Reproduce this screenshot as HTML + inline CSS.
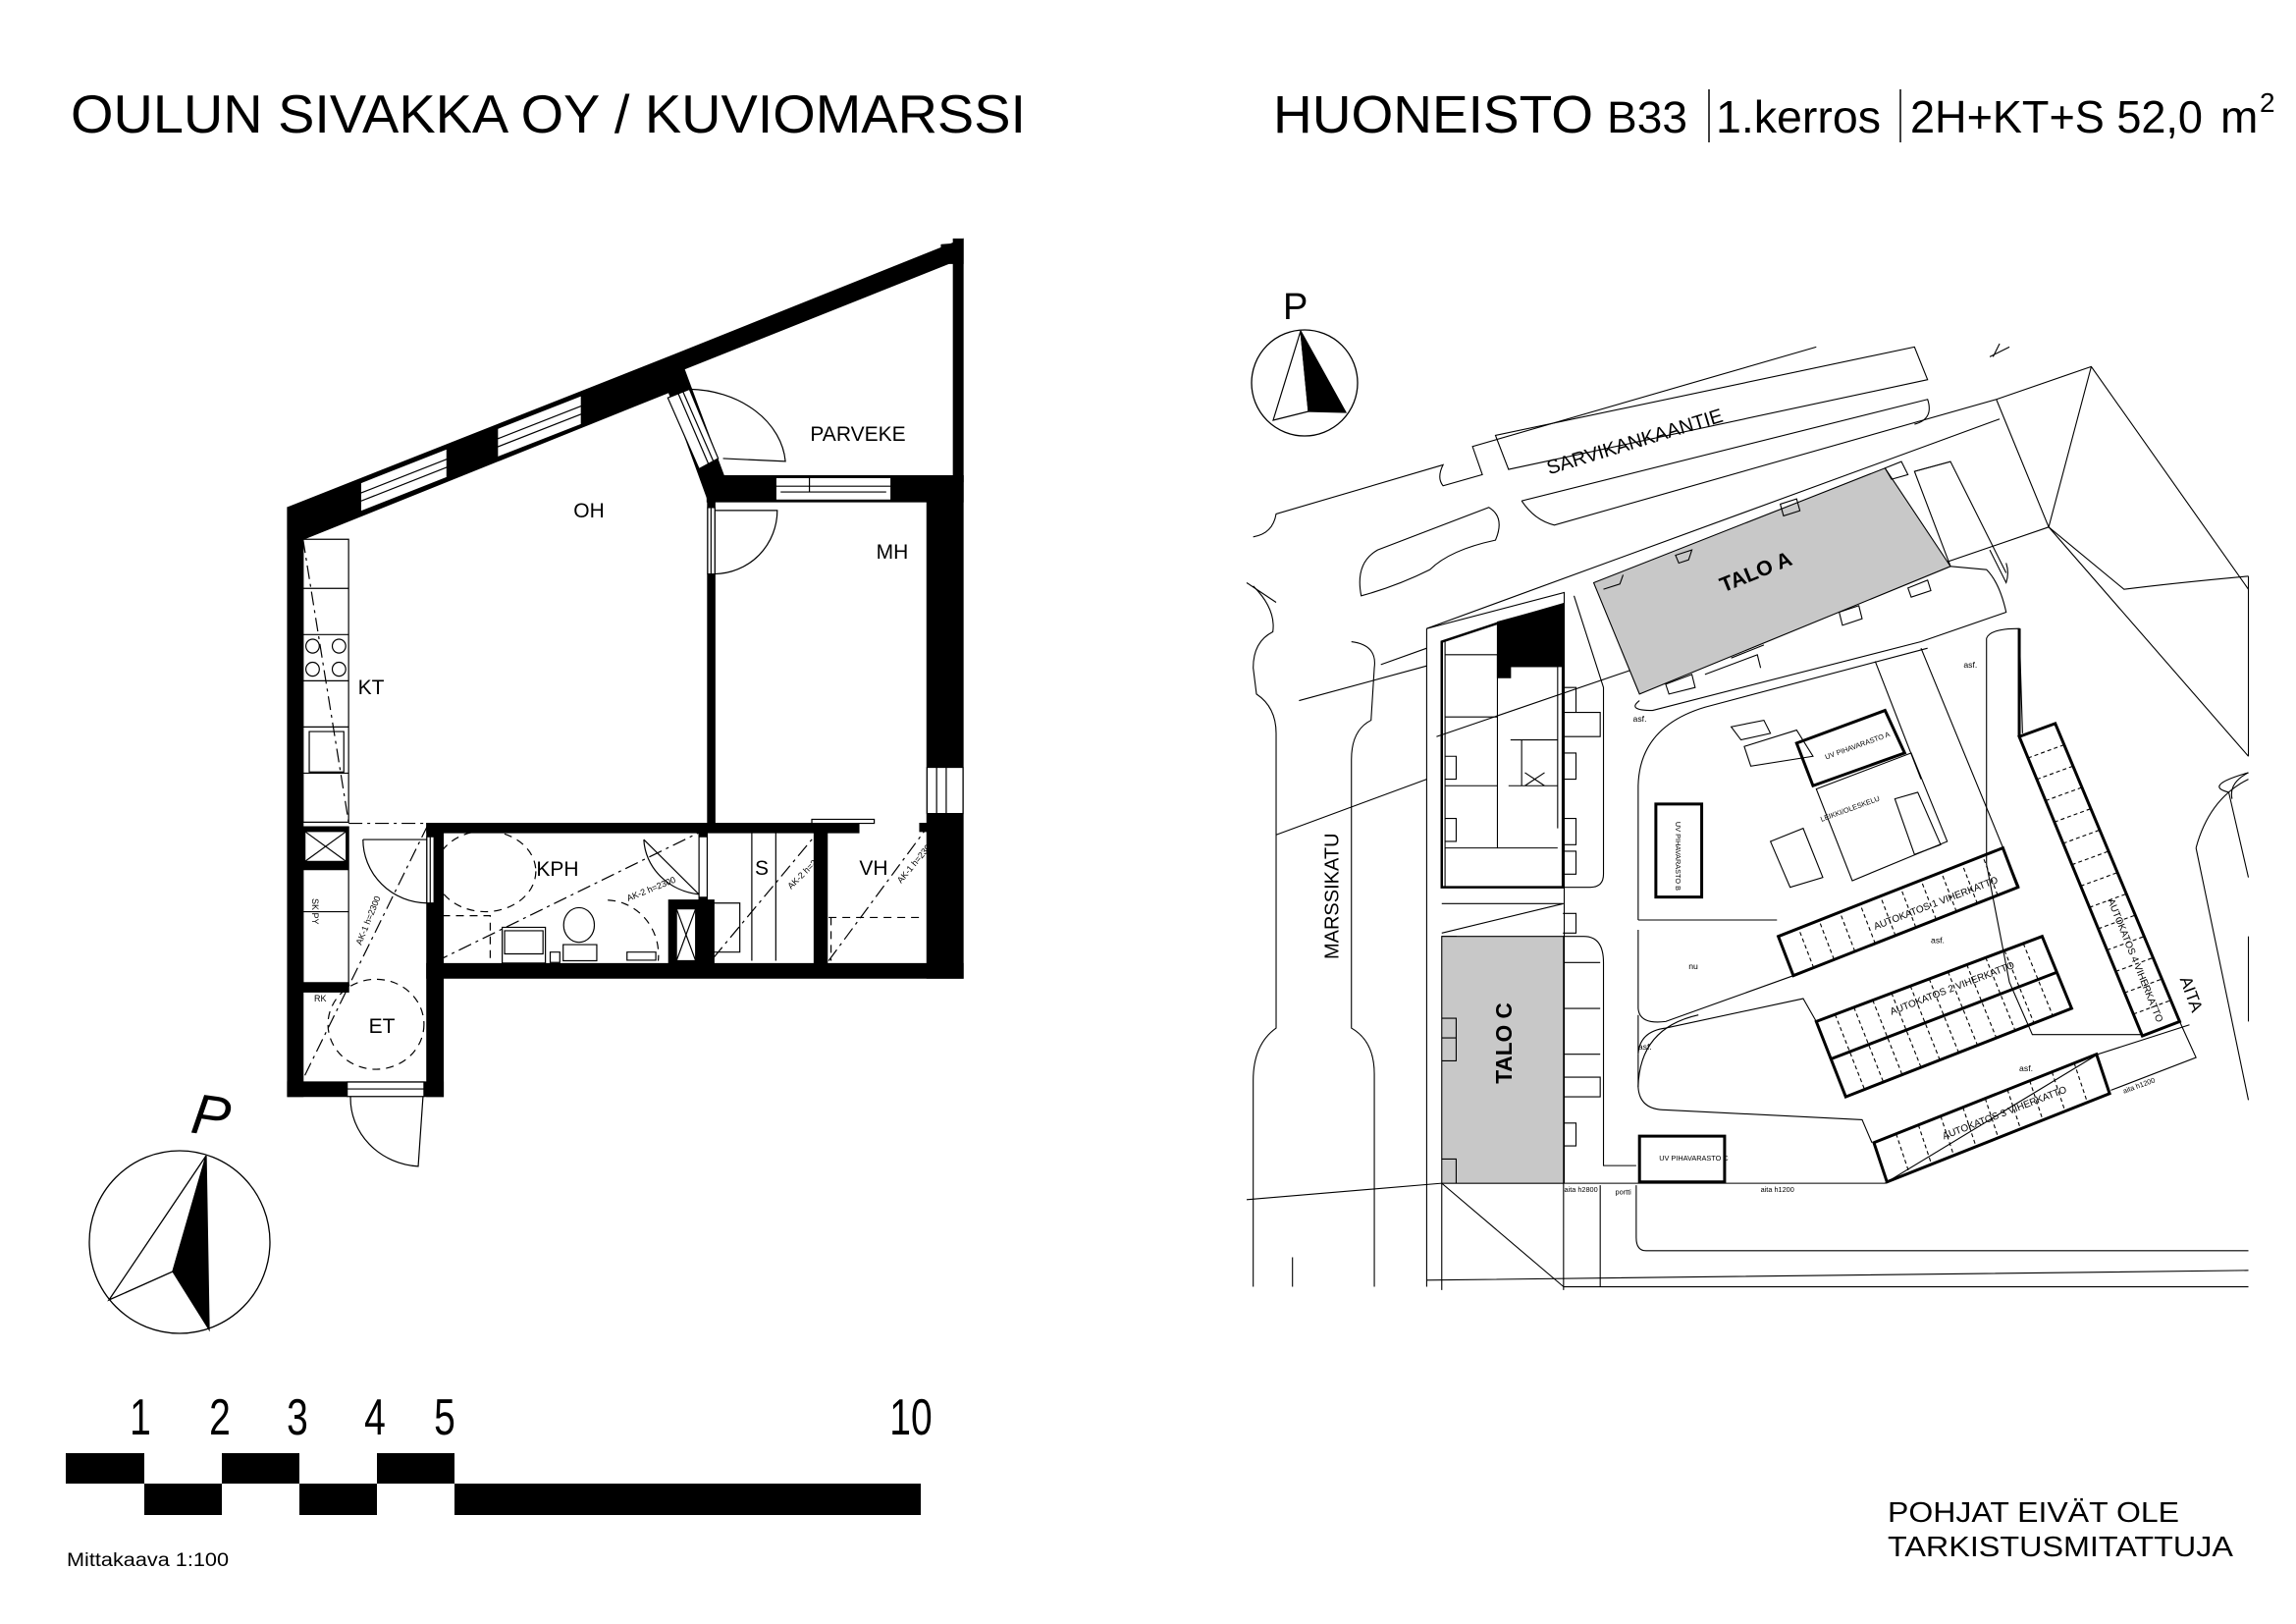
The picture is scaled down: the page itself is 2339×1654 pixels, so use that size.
<!DOCTYPE html>
<html><head><meta charset="utf-8"><style>
html,body{margin:0;padding:0;background:#fff;}
body{width:2339px;height:1654px;position:relative;overflow:hidden;font-family:"Liberation Sans",sans-serif;}
svg{position:absolute;left:0;top:0;}
.fp *{vector-effect:non-scaling-stroke;}
.sp *{vector-effect:non-scaling-stroke;}
</style></head><body>
<svg width="2339" height="1654" viewBox="0 0 2339 1654" xmlns="http://www.w3.org/2000/svg" font-family="Liberation Sans, sans-serif">
<!-- Header -->
<text x="72" y="135" font-size="55" textLength="973" lengthAdjust="spacingAndGlyphs">OULUN SIVAKKA OY / KUVIOMARSSI</text>
<text x="1297" y="135" font-size="54" textLength="326" lengthAdjust="spacingAndGlyphs">HUONEISTO</text>
<text x="1637" y="135" font-size="45" textLength="82" lengthAdjust="spacingAndGlyphs">B33</text>
<line x1="1741" y1="91" x2="1741" y2="145" stroke="#000" stroke-width="1.5"/>
<text x="1748" y="135" font-size="46" textLength="168" lengthAdjust="spacingAndGlyphs">1.kerros</text>
<line x1="1936" y1="91" x2="1936" y2="145" stroke="#000" stroke-width="1.5"/>
<text x="1946" y="135" font-size="46" textLength="298" lengthAdjust="spacingAndGlyphs">2H+KT+S 52,0</text>
<text x="2262" y="135" font-size="46">m</text>
<text x="2302" y="114" font-size="28">2</text>

<!-- Floor plan -->
<g class="fp" transform="matrix(0.489,0,0,0.588,250,220)" stroke="#000" stroke-width="1.2">
 <polygon points="88,505 895,240 1495,40 1495,82 1478,82 1478,78 905,268 898,300 120,560 88,560" fill="#000"/>
 <polygon points="240,462 420,403 420,453 240,512" fill="#fff"/>
 <line x1="240" y1="480" x2="420" y2="421"/><line x1="240" y1="494" x2="420" y2="435"/>
 <polygon points="525,368 700,311 700,361 525,418" fill="#fff"/>
 <line x1="525" y1="386" x2="700" y2="329"/><line x1="525" y1="400" x2="700" y2="343"/>
 <rect x="1475" y="40" width="20" height="420" fill="#000"/>
 <polygon points="1450,50 1478,48 1478,82 1450,82" fill="#000"/>
 <polygon points="872,282 905,245 1002,462 965,495" fill="#000"/>
 <polygon points="880,315 925,300 985,420 945,438" fill="#fff"/>
 <line x1="902" y1="308" x2="965" y2="430"/><line x1="912" y1="305" x2="975" y2="425"/>
 <path d="M925 300 A205 135 0 0 1 1125 425 L995 420" fill="none"/>
 <rect x="962" y="450" width="533" height="45" fill="#000"/>
 <rect x="1105" y="453" width="240" height="39" fill="#fff"/>
 <line x1="1105" y1="468" x2="1345" y2="468"/><line x1="1115" y1="478" x2="1335" y2="478"/>
 <line x1="1175" y1="453" x2="1175" y2="478"/>
 <rect x="1420" y="450" width="75" height="870" fill="#000"/>
 <rect x="1420" y="955" width="75" height="80" fill="#fff"/>
 <line x1="1440" y1="955" x2="1440" y2="1035"/><line x1="1460" y1="955" x2="1460" y2="1035"/>
 <rect x="88" y="505" width="32" height="1020" fill="#000"/>
 <rect x="963" y="495" width="15" height="570" fill="#000"/>
 <rect x="963" y="505" width="15" height="115" fill="#fff"/>
 <line x1="970" y1="505" x2="970" y2="620"/>
 <path d="M978 510 L1108 510 A132 110 0 0 1 978 620" fill="none"/>
 <rect x="378" y="1052" width="900" height="16" fill="#000"/>
 <rect x="1180" y="1045" width="130" height="7" fill="#fff"/>
 <rect x="1405" y="1052" width="20" height="14" fill="#000"/>
 <rect x="378" y="1295" width="1117" height="25" fill="#000"/>
 <rect x="378" y="1052" width="34" height="473" fill="#000"/>
 <rect x="378" y="1075" width="15" height="115" fill="#fff"/>
 <line x1="385" y1="1075" x2="385" y2="1190"/>
 <path d="M245 1080 L378 1080 M245 1080 A135 110 0 0 0 378 1190" fill="none"/>
 <rect x="88" y="1500" width="324" height="25" fill="#000"/>
 <rect x="212" y="1500" width="160" height="25" fill="#fff"/>
 <line x1="212" y1="1512" x2="372" y2="1512"/>
 <path d="M219 1525 A150 118 0 0 0 360 1646 L370 1525" fill="none"/>
 <rect x="945" y="1068" width="17" height="227" fill="#000"/>
 <rect x="945" y="1075" width="17" height="105" fill="#fff"/>
 <path d="M945 1175 L830 1080 M830 1080 A130 100 0 0 0 945 1175" fill="none"/>
 <rect x="882" y="1185" width="63" height="110" fill="#000"/>
 <rect x="898" y="1200" width="40" height="90" fill="#fff"/>
 <line x1="898" y1="1200" x2="938" y2="1290"/><line x1="938" y1="1200" x2="898" y2="1290"/>
 <rect x="962" y="1185" width="14" height="110" fill="#000"/>
 <rect x="1185" y="1065" width="27" height="230" fill="#000"/>
 <rect x="975" y="1190" width="55" height="85" fill="none"/>
 <line x1="1055" y1="1068" x2="1055" y2="1290"/><line x1="1105" y1="1068" x2="1105" y2="1290"/>
 <rect x="120" y="560" width="95" height="490" fill="none"/>
 <line x1="120" y1="645" x2="215" y2="645"/><line x1="120" y1="725" x2="215" y2="725"/>
 <line x1="120" y1="805" x2="215" y2="805"/><line x1="120" y1="885" x2="215" y2="885"/>
 <line x1="120" y1="965" x2="215" y2="965"/>
 <ellipse cx="140" cy="745" rx="14" ry="12" fill="none"/><ellipse cx="195" cy="745" rx="14" ry="12" fill="none"/>
 <ellipse cx="140" cy="785" rx="14" ry="12" fill="none"/><ellipse cx="195" cy="785" rx="14" ry="12" fill="none"/>
 <rect x="133" y="893" width="72" height="70" fill="none"/>
 <rect x="120" y="1058" width="95" height="72" fill="#000"/>
 <rect x="124" y="1066" width="86" height="52" fill="#fff"/>
 <line x1="124" y1="1066" x2="210" y2="1118"/><line x1="210" y1="1066" x2="124" y2="1118"/>
 <rect x="120" y="1132" width="95" height="200" fill="none"/>
 <line x1="120" y1="1205" x2="215" y2="1205"/>
 <rect x="120" y="1328" width="95" height="16" fill="#000"/>
 <rect x="535" y="1232" width="90" height="62" fill="none"/>
 <rect x="540" y="1238" width="80" height="40" fill="none"/>
 <ellipse cx="695" cy="1228" rx="32" ry="30" fill="none"/>
 <rect x="662" y="1262" width="70" height="28" fill="none"/>
 <rect x="635" y="1275" width="20" height="18" fill="none"/>
 <rect x="795" y="1275" width="60" height="14" fill="none"/>
 <g stroke-dasharray="8 6" fill="none">
  <ellipse cx="500" cy="1135" rx="105" ry="70"/>
  <ellipse cx="272" cy="1400" rx="100" ry="78"/>
  <path d="M755 1185 A110 95 0 0 1 860 1290"/>
  <path d="M410 1212 L510 1212 L510 1290"/>
  <line x1="1215" y1="1215" x2="1415" y2="1215"/>
  <line x1="1220" y1="1215" x2="1220" y2="1290"/>
 </g>
 <g stroke-dasharray="14 5 3 5" fill="none">
  <line x1="380" y1="1055" x2="120" y2="1495"/>
  <line x1="395" y1="1292" x2="945" y2="1068"/>
  <line x1="975" y1="1285" x2="1185" y2="1075"/>
  <line x1="1215" y1="1290" x2="1415" y2="1065"/>
  <line x1="120" y1="560" x2="215" y2="1050"/>
  <line x1="215" y1="1052" x2="378" y2="1052"/>
 </g>
</g>
<g font-size="21" text-anchor="middle">
<text x="600" y="527">OH</text>
<text x="874" y="449">PARVEKE</text>
<text x="909" y="569">MH</text>
<text x="378" y="707">KT</text>
<text x="568" y="892">KPH</text>
<text x="776" y="891">S</text>
<text x="890" y="891">VH</text>
<text x="389" y="1052">ET</text>
</g>
<g font-size="9">
<text transform="translate(368,963) rotate(-68)">AK-1 h=2300</text>
<text transform="translate(640,918) rotate(-22)">AK-2 h=2300</text>
<text transform="translate(806,906) rotate(-45)">AK-2 h=2300</text>
<text transform="translate(918,900) rotate(-50)">AK-1 h=2300</text>
<text x="318" y="915" transform="rotate(90 318 915)">SK PY</text>
<text x="320" y="1020">RK</text>
</g>

<ellipse cx="183" cy="1265" rx="92" ry="93" fill="none" stroke="#000" stroke-width="1.3"/>
<polygon points="210,1177 176,1295 111,1324" fill="#fff" stroke="#000" stroke-width="1.3"/>
<polygon points="210,1177 176,1295 213,1354" fill="#000" stroke="#000" stroke-width="1.3"/>
<text x="196" y="1156" font-size="58" font-style="italic" transform="rotate(8 214 1134)">P</text>

<g fill="#000">
<rect x="67" y="1480" width="80" height="31"/><rect x="226" y="1480" width="79" height="31"/><rect x="384" y="1480" width="79" height="31"/>
<rect x="147" y="1511" width="79" height="32"/><rect x="305" y="1511" width="79" height="32"/><rect x="463" y="1511" width="475" height="32"/>
</g>
<g font-size="52" text-anchor="middle">
<text transform="translate(143,1461) scale(0.75,1)">1</text>
<text transform="translate(224,1461) scale(0.75,1)">2</text>
<text transform="translate(303,1461) scale(0.75,1)">3</text>
<text transform="translate(382,1461) scale(0.75,1)">4</text>
<text transform="translate(453,1461) scale(0.75,1)">5</text>
<text transform="translate(928,1461) scale(0.75,1)">10</text>
</g>
<text x="68" y="1595" font-size="19" textLength="165" lengthAdjust="spacingAndGlyphs">Mittakaava 1:100</text>

<text x="1923" y="1550" font-size="29" textLength="297" lengthAdjust="spacingAndGlyphs">POHJAT EIVÄT OLE</text>
<text x="1923" y="1585" font-size="29" textLength="352" lengthAdjust="spacingAndGlyphs">TARKISTUSMITATTUJA</text>

<circle cx="1329" cy="390" r="54" fill="none" stroke="#000" stroke-width="1.3"/>
<polygon points="1325,337 1297,428 1333,419" fill="#fff" stroke="#000" stroke-width="1.2"/>
<polygon points="1325,337 1333,419 1371,420" fill="#000" stroke="#000" stroke-width="1.2"/>
<text x="1307" y="325" font-size="38">P</text>

<g class="sp" transform="matrix(0.667,0,0,0.667,1270,280)" stroke="#000" stroke-width="1.1" fill="none">
 <path d="M10 400 Q40 395 45 365 L300 290 Q290 310 300 322 L360 305 L345 262 L870 110"/>
 <path d="M380 245 L1020 110 L1040 160 L400 297 Z"/>
 <path d="M420 345 L1040 190 Q1050 220 1020 228"/>
 <path d="M420 345 Q440 375 470 382 L1145 190"/>
 <path d="M175 490 Q165 440 200 420 L370 355 Q395 370 380 405 Q310 420 280 450 Q230 475 175 490 Z"/>
 <path d="M1135 125 L1165 110 M1140 125 L1150 105"/>
 <line x1="0" y1="470" x2="45" y2="500"/>
 <line x1="275" y1="540" x2="1150" y2="220"/>
 <line x1="205" y1="595" x2="275" y2="570"/>
 <line x1="80" y1="650" x2="275" y2="597"/>
 <line x1="45" y1="855" x2="275" y2="770"/>
 <path d="M1145 190 L1290 140 L1530 480"/>
 <path d="M1145 190 L1225 385 L1530 735"/>
 <path d="M1225 385 L1290 140"/>
 <path d="M1225 385 L290 705"/>
 <path d="M1225 385 L1340 480 Q1420 470 1530 460"/>
 <path d="M1530 760 Q1460 780 1500 790 L1530 920"/>
 <path d="M1530 760 Q1500 775 1505 800"/>
 <path d="M1450 875 Q1470 800 1530 770"/>
 <path d="M1450 875 L1530 1260"/>
 <path d="M1530 460 L1530 735"/>
 <path d="M1530 1010 L1530 1140"/>
 <path d="M160 560 Q200 565 195 600 L190 680 Q160 695 160 740 L160 1150 Q195 1170 195 1220 L195 1545"/>
 <path d="M10 475 Q45 510 40 545 Q10 560 10 600 L15 640 Q45 660 45 700 L45 1150 Q10 1175 10 1230 L10 1545"/>
 <line x1="70" y1="1500" x2="70" y2="1545"/>
 <path d="M275 540 L275 1545"/>
 <path d="M275 540 L485 485 L485 1387"/>
 <path d="M0 1412 L298 1387 L975 1387 L1300 1190 L1440 1145"/>
 <path d="M298 1387 L298 1550 M484 1387 L484 1550 M298 1387 L484 1545 M540 1390 L540 1545"/>
 <path d="M595 1390 L595 1470 Q595 1490 610 1490 L1530 1490 M484 1545 L1530 1545 M275 1535 L1530 1520"/>
 <path d="M500 490 L545 630 L545 915 Q545 935 525 935 L485 935"/>
 <path d="M485 1010 L515 1010 Q545 1010 545 1050 L545 1360 L595 1360"/>
 <path d="M598 985 L598 780 Q600 690 700 660 L1040 570"/>
 <path d="M598 985 L810 985"/>
 <path d="M598 1130 L598 1190 Q600 1155 640 1150 L850 1105 L870 1140"/>
 <path d="M598 1190 L598 1240 Q600 1275 640 1275 L940 1290 L955 1325"/>
 <path d="M598 1240 Q600 1150 690 1130"/>
 <path d="M598 1000 L598 1120 Q600 1145 640 1140 L835 1070"/>
 <path d="M600 650 Q580 665 620 665 L1030 560 L1160 515 Q1150 470 1130 450 L1075 445"/>
 <path d="M1130 555 Q1135 540 1180 540 L1185 700 M1130 555 L1130 900 L1165 1080 L1200 1160 L1370 1160"/>
 <path d="M1135 420 L1160 470 Q1165 455 1160 440"/>
 <path d="M1075 445 L1020 300 L1075 285 L1160 455"/>
 <path d="M960 590 L1030 770 M1030 570 L1180 935"/>
 <path d="M740 690 L790 680 L800 700 L755 710 Z M760 720 L840 695 L865 735 L770 750 Z"/>
 <path d="M800 865 L850 845 L880 920 L830 935 Z"/>
 <polygon points="530,470 975,295 1075,445 600,640" fill="#c8c8c8"/>
 <path d="M545 480 L570 472 L575 458 M655 428 L680 420 L675 435 L660 440 Z M815 350 L840 342 L845 360 L820 368 Z M975 295 L1000 285 L1010 305 L985 312 Z M1010 478 L1040 466 L1045 482 L1015 492 Z M905 515 L935 505 L940 525 L910 535 Z M740 585 L790 565 M640 625 L680 610 L685 630 L645 640 Z M700 610 L780 580 L785 600 M1020 300 L1075 285"/>
 <path d="M298 560 L383 532 L483 503 L483 935 L298 935 Z" stroke-width="2.5"/>
 <polygon points="383,530 483,503 483,598 403,598 403,615 383,615" fill="#000"/>
 <path d="M303 580 L383 580 L383 875 L303 875 M403 598 L475 598 L475 710 L403 710 M303 675 L383 675 M303 780 L383 780 M420 710 L475 710 L475 780 L420 780 Z M425 760 L455 780 M455 760 L425 780 M400 780 L475 780 L475 845 M303 875 L475 875 M303 560 L303 935"/>
 <path d="M303 735 L320 735 L320 770 L303 770 M303 830 L320 830 L320 865 L303 865 M483 630 L503 630 L503 668 L483 668 M483 730 L503 730 L503 770 L483 770 M483 830 L503 830 L503 870 L483 870 M483 668 L540 668 L540 705 L483 705 M483 880 L503 880 L503 915 L483 915"/>
 <path d="M298 960 L484 960 M298 1005 L484 960 M298 1010 L320 1010 L320 1045 L298 1045 M483 975 L503 975 L503 1005 L483 1005"/>
 <rect x="298" y="1010" width="186" height="377" fill="#c8c8c8"/>
 <path d="M298 1135 L320 1135 L320 1165 L298 1165 M298 1165 L320 1165 L320 1200 L298 1200 M298 1350 L320 1350 L320 1387 M484 1050 L540 1050 M484 1120 L540 1120 M484 1190 L540 1190 M484 1225 L540 1225 L540 1255 L484 1255 M484 1295 L503 1295 L503 1330 L484 1330"/>
 <rect x="625" y="808" width="70" height="142" stroke-width="3"/>
 <rect x="600" y="1315" width="130" height="70" stroke-width="3"/>
 <polygon points="840,715 975,665 1005,730 865,780" stroke-width="3"/>
 <polygon points="870,785 1015,730 1070,865 925,925"/>
 <polygon points="990,800 1025,790 1060,870 1020,885"/>
 <polygon points="812,1010 1155,875 1178,935 835,1070" stroke-width="3"/>
 <path d="M866 1058 L843 998 M897 1045 L874 985 M929 1033 L906 973 M960 1021 L937 961 M991 1009 L968 949 M1022 996 L999 936 M1053 984 L1030 924 M1084 972 L1061 912 M1116 960 L1093 900 M1147 947 L1124 887" stroke-dasharray="4 3"/>
 <polygon points="870,1140 1215,1010 1260,1120 915,1255" stroke-width="3"/>
 <line x1="893" y1="1197" x2="1237" y2="1065" stroke-width="3"/>
 <path d="M898.75 1129.2 L943.75 1243.75 M927.5 1118.3 L972.5 1232.5 M956.25 1107.5 L1001.25 1221.25 M985 1096.7 L1030 1210 M1013.75 1085.8 L1058.75 1198.75 M1042.5 1075 L1087.5 1187.5 M1071.25 1064.2 L1116.25 1176.25 M1100 1053.4 L1145 1165 M1128.75 1042.5 L1173.75 1153.75 M1157.5 1031.7 L1202.5 1142.5 M1186.25 1020.9 L1231.25 1131.25" stroke-dasharray="4 3"/>
 <polygon points="958,1325 1298,1190 1318,1250 978,1385" stroke-width="3"/>
 <path d="M992 1311.5 L1012 1371.5 M1026 1298 L1046 1358 M1060 1284.5 L1080 1344.5 M1094 1271 L1114 1331 M1128 1257.5 L1148 1317.5 M1162 1244 L1182 1304 M1196 1230.5 L1216 1290.5 M1230 1217 L1250 1277 M1264 1203.5 L1284 1263.5" stroke-dasharray="4 3"/>
 <polygon points="1180,705 1235,685 1425,1140 1368,1162" stroke-width="3"/>
 <path d="M1193.4 737.6 L1248.6 717.5 M1206.8 770.2 L1262.2 750 M1220.2 802.8 L1275.8 782.5 M1233.6 835.4 L1289.4 815 M1247 868 L1303 847.5 M1260.4 900.6 L1316.6 880 M1273.8 933.2 L1330.2 912.5 M1287.2 965.8 L1343.8 945 M1300.6 998.4 L1357.4 977.5 M1314 1031 L1371 1010 M1327.4 1063.6 L1384.6 1042.5 M1340.8 1096.2 L1398.2 1075 M1354.2 1128.8 L1411.8 1107.5" stroke-dasharray="4 3"/>
 <line x1="1180" y1="540" x2="1180" y2="705" stroke-width="3"/>
 <path d="M1425 1140 L1450 1195 L1320 1245"/>
</g>
<g transform="matrix(0.667,0,0,0.667,1270,280)" font-family="Liberation Sans, sans-serif">
 <text transform="translate(462,305) rotate(-17)" font-size="30">SARVIKANKAANTIE</text>
 <text transform="translate(140,1045) rotate(-90)" font-size="30">MARSSIKATU</text>
 <text transform="translate(728,485) rotate(-22)" font-size="32" font-weight="bold">TALO A</text>
 <text transform="translate(405,1235) rotate(-90)" font-size="34" font-weight="bold">TALO C</text>
 <text transform="translate(1425,1075) rotate(70)" font-size="26">AITA</text>
 <g font-size="11">
  <text x="878" y="835" transform="rotate(-20 878 835)">LEIKKI/OLESKELU</text>
  <text x="885" y="740" transform="rotate(-20 885 740)">UV PIHAVARASTO A</text>
  <text x="655" y="835" transform="rotate(90 655 835)">UV PIHAVARASTO B</text>
  <text x="630" y="1352">UV PIHAVARASTO C</text>
  <text x="960" y="1000" transform="rotate(-21 960 1000)" font-size="15">AUTOKATOS 1 VIHERKATTO</text>
  <text x="985" y="1130" transform="rotate(-21 985 1130)" font-size="15">AUTOKATOS 2 VIHERKATTO</text>
  <text x="1065" y="1320" transform="rotate(-21 1065 1320)" font-size="15">AUTOKATOS 3 VIHERKATTO</text>
  <text x="1315" y="955" transform="rotate(68 1315 955)" font-size="15">AUTOKATOS 4 VIHERKATTO</text>
  <text x="1095" y="600" font-size="13">asf.</text>
  <text x="590" y="682" font-size="13">asf.</text>
  <text x="1045" y="1020" font-size="13">asf.</text>
  <text x="598" y="1183" font-size="13">asf.</text>
  <text x="1180" y="1216" font-size="13">asf.</text>
  <text x="675" y="1060" font-size="13">nu</text>
  <text x="485" y="1400">aita h2800</text>
  <text x="563" y="1404">portti</text>
  <text x="785" y="1400">aita h1200</text>
  <text x="1340" y="1250" transform="rotate(-20 1340 1250)">aita h1200</text>
 </g>
</g>
</svg>
</body></html>
